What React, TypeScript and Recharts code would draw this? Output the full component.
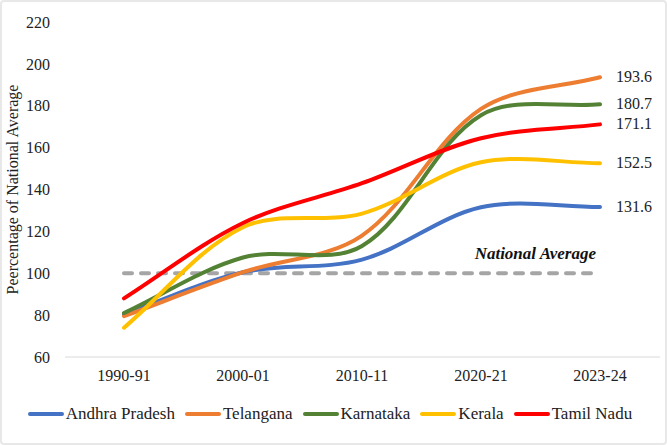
import { LineChart, Line, XAxis, YAxis, Legend, LabelList } from 'recharts';

const YEARS = ['1990-91', '2000-01', '2010-11', '2020-21', '2023-24'];
const ANDHRA = [80.5, 100.5, 106.5, 131.5, 131.6];
const TELANGANA = [79.5, 100.5, 118, 178.5, 193.6];
const KARNATAKA = [81, 107.5, 113, 175.5, 180.7];
const KERALA = [74, 122, 128.5, 153, 152.5];
const TAMIL_NADU = [88, 124, 143, 164.5, 171.1];
const NATIONAL = [100, 100, 100, 100, 100];
const Y_TICKS = [60, 80, 100, 120, 140, 160, 180, 200, 220];

const SERIES = [
  { key: 'Andhra Pradesh', values: ANDHRA, color: '#4472C4' },
  { key: 'Telangana', values: TELANGANA, color: '#ED7D31' },
  { key: 'Karnataka', values: KARNATAKA, color: '#548235' },
  { key: 'Kerala', values: KERALA, color: '#FFC000' },
  { key: 'Tamil Nadu', values: TAMIL_NADU, color: '#FF0000' },
];

const data = YEARS.map((year, i) => {
  const row: Record<string, number | string> = { year, national: NATIONAL[i] };
  SERIES.forEach(s => { row[s.key] = s.values[i]; });
  return row;
});

const FONT = '"Liberation Serif", "Noto Serif", "DejaVu Serif", Tinos, Times, serif';

const dist = (a: number[], b: number[]) => Math.hypot(a[0] - b[0], a[1] - b[1]);

// Excel-like smoothed line: bezier handles scaled by neighbouring segment lengths
function excelSmooth(context: any) {
  let pts: number[][] = [];
  return {
    areaStart() {},
    areaEnd() {},
    lineStart() { pts = []; },
    point(x: number, y: number) { pts.push([+x, +y]); },
    lineEnd() {
      const n = pts.length;
      if (!n) return;
      context.moveTo(pts[0][0], pts[0][1]);
      for (let i = 0; i < n - 1; i++) {
        const p0 = pts[Math.max(0, i - 1)];
        const p1 = pts[i];
        const p2 = pts[i + 1];
        const p3 = pts[Math.min(n - 1, i + 2)];
        const d01 = dist(p0, p1), d12 = dist(p1, p2), d23 = dist(p2, p3);
        const f1 = d12 / (d01 + d12) / 3;
        const f2 = d12 / (d12 + d23) / 3;
        context.bezierCurveTo(
          p1[0] + (p2[0] - p0[0]) * f1, p1[1] + (p2[1] - p0[1]) * f1,
          p2[0] - (p3[0] - p1[0]) * f2, p2[1] - (p3[1] - p1[1]) * f2,
          p2[0], p2[1],
        );
      }
    },
  };
}

const endLabel = (props: any) => {
  const { x, y, value, index } = props;
  if (index !== YEARS.length - 1) return null;
  return (
    <text x={x + 16} y={y} dy={5} fontSize={16} fill="#222">
      {Number(value).toFixed(1)}
    </text>
  );
};

const nationalLabel = (props: any) => {
  const { x, y, index } = props;
  if (index !== YEARS.length - 1) return null;
  return (
    <text x={x - 4} y={y - 20} dy={6} textAnchor="end" fontSize={17} fontWeight="bold"
      fontStyle="italic" fill="#111">
      National Average
    </text>
  );
};

const LegendContent = () => (
  <div style={{ display: 'flex', justifyContent: 'center', alignItems: 'center', height: 38, fontFamily: FONT, fontSize: 17, color: '#222', gap: 10 }}>
    {SERIES.map(s => (
      <div key={s.key} style={{ display: 'flex', alignItems: 'center' }}>
        <span style={{ display: 'inline-block', width: 36, height: 4, borderRadius: 2, background: s.color, marginRight: 2 }} />
        <span>{s.key}</span>
      </div>
    ))}
  </div>
);

export default function App() {
  return (
    <div style={{ position: 'relative', width: 667, height: 445, background: '#fff', fontFamily: FONT }}>
      <style>{`body{margin:0;} svg text{font-family:${FONT};}`}</style>
      <LineChart width={667} height={445} data={data} margin={{ top: 22, right: 7, bottom: 12, left: 0 }}>
        <XAxis dataKey="year" padding={{ left: 59, right: 60 }} stroke="#d9d9d9" tickLine={false} tickSize={0} tickMargin={13}
          height={38} tick={{ fontSize: 16, fill: '#222' }} />
        <YAxis domain={[60, 220]} ticks={Y_TICKS} width={65} axisLine={false} tickLine={false} tickSize={0} tickMargin={15}
          tick={{ fontSize: 16, fill: '#222' }}
          label={({ viewBox }: any) => (
            <text x={12} y={viewBox.y + viewBox.height / 2} transform={`rotate(-90, 12, ${viewBox.y + viewBox.height / 2})`}
              textAnchor="middle" dominantBaseline="central" fontSize={16} fill="#222">
              Peercentage of National Average
            </text>
          )} />
        <Legend verticalAlign="bottom" height={38} content={<LegendContent />} />
        <Line dataKey="national" type="linear" stroke="#A5A5A5" strokeWidth={4} strokeDasharray="8 9" strokeLinecap="round"
          dot={false} legendType="none" isAnimationActive={false}>
          <LabelList content={nationalLabel} />
        </Line>
        {SERIES.map(s => (
          <Line key={s.key} dataKey={s.key} type={excelSmooth as any} stroke={s.color} strokeWidth={4} strokeLinecap="round"
            dot={false} isAnimationActive={false}>
            <LabelList dataKey={s.key} content={endLabel} />
          </Line>
        ))}
      </LineChart>
      <div style={{ position: 'absolute', inset: 0, border: '2px solid #e8e8e8', borderRadius: 4, pointerEvents: 'none' }} />
    </div>
  );
}
